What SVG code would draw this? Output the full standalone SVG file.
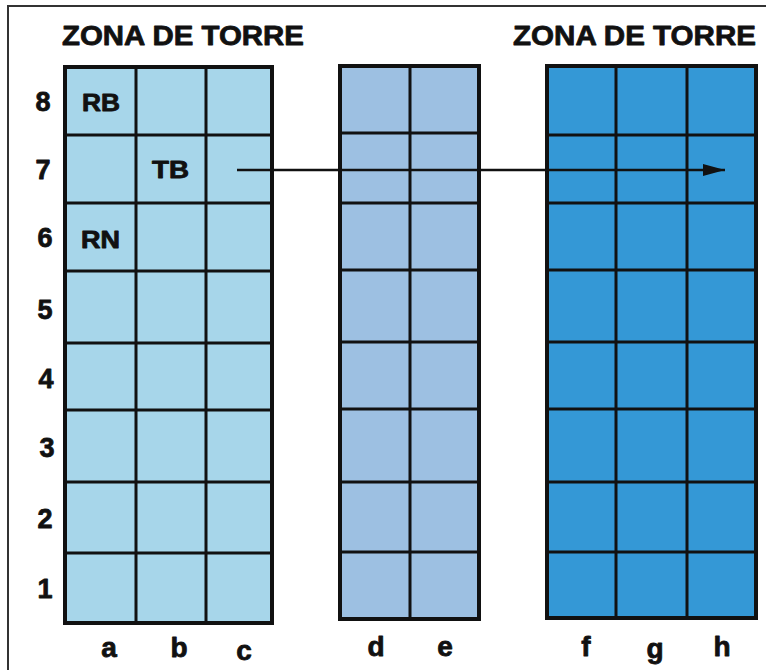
<svg xmlns="http://www.w3.org/2000/svg" width="766" height="670" viewBox="0 0 766 670">
<defs>
<style>
.t{font-family:"Liberation Sans",Arial,sans-serif;font-weight:bold;fill:#111;stroke:#111;stroke-width:0.8;stroke-linejoin:round}
.title{font-size:28px}
.num{font-size:27px;text-anchor:middle}
.col{font-size:28px;text-anchor:middle}
.cell{font-size:23px}
.grid{stroke:#111;stroke-width:3;fill:none}
.outer{stroke:#111;stroke-width:4}
</style>
<marker id="ah" viewBox="0 0 22 12" refX="22" refY="6" markerWidth="22" markerHeight="12" markerUnits="userSpaceOnUse" orient="auto">
<path d="M0,0 L22,6 L0,12 Z" fill="#111"/>
</marker>
</defs>
<rect width="766" height="670" fill="#fff"/>
<path d="M8,670 V6 H766" fill="none" stroke="#333" stroke-width="2"/>

<text class="t title" x="62" y="45" textLength="242" lengthAdjust="spacingAndGlyphs">ZONA DE TORRE</text>
<text class="t title" x="513" y="45" textLength="243" lengthAdjust="spacingAndGlyphs">ZONA DE TORRE</text>

<g id="rank-labels">
<text class="t num" x="43" y="111">8</text>
<text class="t num" x="43" y="179">7</text>
<text class="t num" x="45" y="247">6</text>
<text class="t num" x="45" y="319">5</text>
<text class="t num" x="46" y="388">4</text>
<text class="t num" x="47" y="457">3</text>
<text class="t num" x="45" y="528">2</text>
<text class="t num" x="45" y="598">1</text>
</g>

<g id="grid-abc">
<rect x="65" y="67" width="207" height="556" fill="#a7d6ea"/>
<path class="grid" d="M136,67 V623 M206,67 V623 M65,135 H272 M65,203 H272 M65,271 H272 M65,343 H272 M65,410 H272 M65,482 H272 M65,553 H272"/>
<rect class="outer" x="65" y="67" width="207" height="556" fill="none"/>
<text class="t cell" x="82" y="111" textLength="38" lengthAdjust="spacingAndGlyphs">RB</text>
<text class="t cell" x="152" y="178" textLength="37" lengthAdjust="spacingAndGlyphs">TB</text>
<text class="t cell" x="81" y="248" textLength="39" lengthAdjust="spacingAndGlyphs">RN</text>
</g>

<g id="grid-de">
<rect x="340" y="66" width="139" height="553" fill="#9dc0e2"/>
<path class="grid" d="M410,66 V619 M340,133 H479 M340,203 H479 M340,270 H479 M340,342 H479 M340,409 H479 M340,482 H479 M340,552 H479"/>
<rect class="outer" x="340" y="66" width="139" height="553" fill="none"/>
</g>

<g id="grid-fgh">
<rect x="547" y="66" width="209" height="552" fill="#3498d6"/>
<path class="grid" d="M616,66 V618 M687,66 V618 M547,135 H756 M547,203 H756 M547,270 H756 M547,342 H756 M547,409 H756 M547,482 H756 M547,552 H756"/>
<rect class="outer" x="547" y="66" width="209" height="552" fill="none"/>
</g>

<g id="file-labels">
<text class="t col" x="109" y="657">a</text>
<text class="t col" x="179" y="657">b</text>
<text class="t col" x="244" y="660">c</text>
<text class="t col" x="376" y="656">d</text>
<text class="t col" x="445" y="656">e</text>
<text class="t col" x="586" y="656">f</text>
<text class="t col" x="655" y="658">g</text>
<text class="t col" x="722" y="656">h</text>
</g>

<g id="connectors">
<line x1="237" y1="170" x2="725" y2="170" stroke="#111" stroke-width="2.5" marker-end="url(#ah)"/>
</g>
</svg>
